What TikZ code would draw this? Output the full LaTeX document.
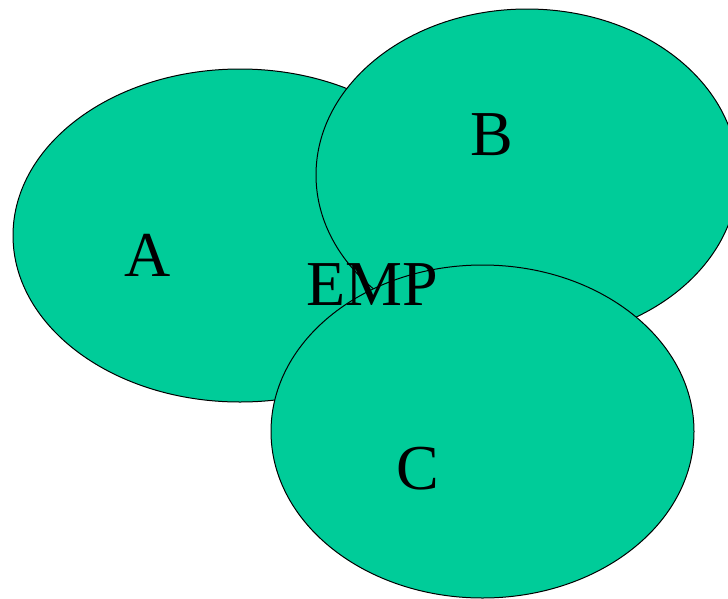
\documentclass[tikz,border=0pt]{standalone}
\usepackage{fontspec}
\setmainfont{Liberation Serif}
\usepackage{tikz}
\usetikzlibrary{shapes.geometric}
\definecolor{venn}{RGB}{0,204,153}
\tikzset{
    blob/.style={ellipse, draw=black, line width=1pt, fill=venn, inner sep=0pt},
    lbl/.style={anchor=base, inner sep=0pt, font=\fontsize{64}{64}\selectfont}
}
\begin{document}
\begin{tikzpicture}[x=1pt, y=-1pt]
    \useasboundingbox (0,0) rectangle (728,598);
    % the three sets
    \node[blob, minimum width=454pt, minimum height=333pt] (setA) at (240,235.5) {};
    \node[blob, minimum width=422pt, minimum height=332pt] (setB) at (527,175) {};
    \node[blob, minimum width=423pt, minimum height=333pt] (setC) at (482.5,431.5) {};
    % labels
    \node[lbl] (labA) at (148,276) {A};
    \node[lbl] (labB) at (492,155) {B};
    \node[lbl] (labC) at (418,489) {C};
    \node[lbl] (labEMP) at (372,305) {EMP};
\end{tikzpicture}
\end{document}
